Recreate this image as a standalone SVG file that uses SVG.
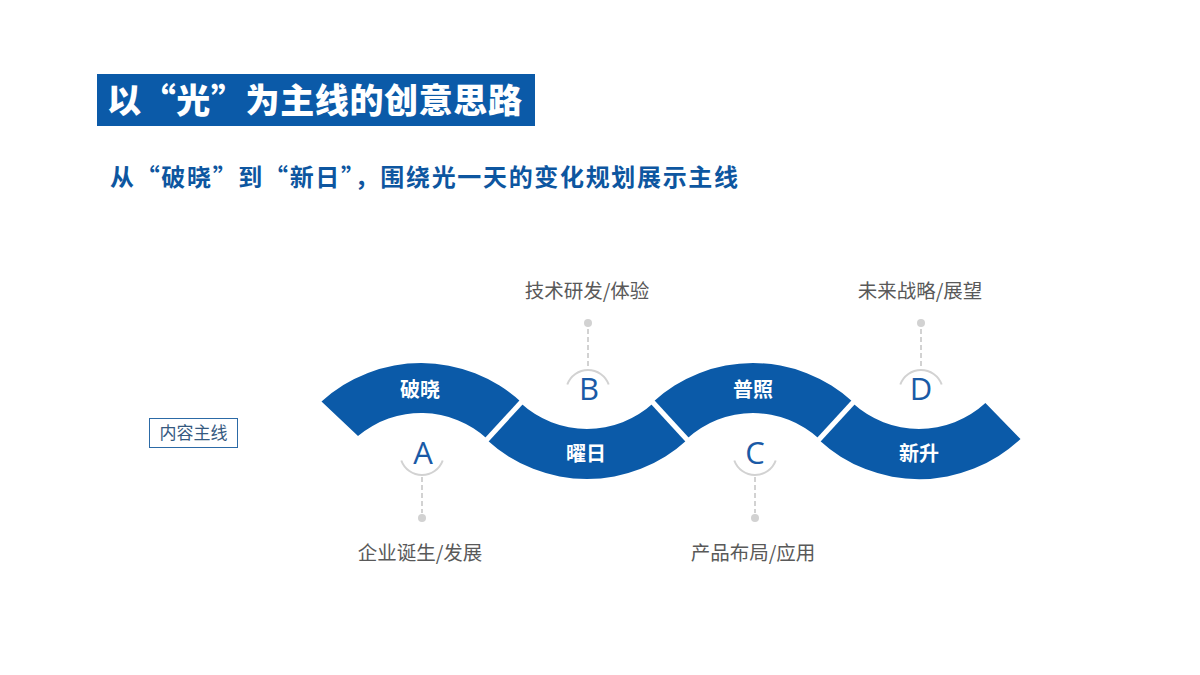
<svg xmlns="http://www.w3.org/2000/svg" width="1200" height="675" viewBox="0 0 1200 675">
  <style>
    .band { fill: #0b5aa8; }
    .gap { stroke: #ffffff; stroke-width: 5; fill: none; }
    .seg { font-family: "Noto Sans CJK SC", "Noto Sans", sans-serif; font-weight: bold; font-size: 20px; fill: #ffffff; text-anchor: middle; }
    .letter { font-family: "Open Sans", "Noto Sans", sans-serif; font-size: 31px; fill: #1a5aa6; text-anchor: middle; }
    .ring { stroke: #d2d2d2; stroke-width: 2; fill: none; }
    .dash { stroke: #d2d2d2; stroke-width: 2; stroke-dasharray: 5 3; fill: none; }
    .dot { fill: #d2d2d2; }
    .lbl { font-family: "Noto Sans CJK SC", "Noto Sans", sans-serif; font-size: 19.5px; fill: #595959; text-anchor: middle; }
  </style>
  <rect width="1200" height="675" fill="#ffffff"/>

  <g id="title">
    <rect x="97" y="74" width="438" height="52" fill="#0b5aa8"/>
    <text x="107" y="113" font-family="Noto Sans CJK SC, sans-serif" font-weight="900" font-size="34" fill="#ffffff" textLength="415" lengthAdjust="spacing">以“光”为主线的创意思路</text>
  </g>

  <g id="subtitle">
    <text x="110" y="186" font-family="Noto Sans CJK SC, sans-serif" font-weight="bold" font-size="24" fill="#0d56a0" textLength="628" lengthAdjust="spacing">从“破晓”到“新日”，围绕光一天的变化规划展示主线</text>
  </g>

  <g id="content-line">
    <rect x="149.5" y="418.5" width="88" height="29" fill="#ffffff" stroke="#2c6aa6" stroke-width="1"/>
    <text x="193.5" y="439" font-family="Noto Sans CJK SC, sans-serif" font-size="17" fill="#35597f" text-anchor="middle">内容主线</text>
  </g>

  <g id="seg-poxiao">
    <path class="band" d="M 321.5 401.5 A 148 148 0 0 1 521.3 402.2 L 487.4 439.0 A 98 98 0 0 0 358 436 Z"/>
    <text class="seg" x="420" y="397">破晓</text>
  </g>
  <g id="seg-yaori">
    <path class="band" d="M 520.6 403 A 98 98 0 0 0 653.4 403 L 687.3 439.8 A 148 148 0 0 1 486.7 439.8 Z"/>
    <text class="seg" x="586" y="461">曜日</text>
  </g>
  <g id="seg-puzhao">
    <path class="band" d="M 652.7 402.2 A 148 148 0 0 1 853.3 402.2 L 819.4 439.0 A 98 98 0 0 0 686.6 439.0 Z"/>
    <text class="seg" x="753" y="397">普照</text>
  </g>
  <g id="seg-xinsheng">
    <path class="band" d="M 852.6 403 A 98 98 0 0 0 985.4 403 L 1020.5 439 A 148 148 0 0 1 818.7 439.8 Z"/>
    <text class="seg" x="919" y="461">新升</text>
  </g>

  <g id="gaps">
    <line class="gap" x1="485.4" y1="441.2" x2="523.3" y2="400"/>
    <line class="gap" x1="688.6" y1="441.2" x2="650.7" y2="400"/>
    <line class="gap" x1="817.4" y1="441.2" x2="855.3" y2="400"/>
  </g>

  <g id="connectors">
    <line class="dash" x1="422" y1="477" x2="422" y2="513"/>
    <line class="dash" x1="588" y1="329" x2="588" y2="369"/>
    <line class="dash" x1="755" y1="477" x2="755" y2="513"/>
    <line class="dash" x1="921" y1="329" x2="921" y2="369"/>
  </g>

  <g id="marker-a">
    <path class="ring" d="M 401.3 460.5 A 22 22 0 0 0 442.7 460.5"/>
    <circle class="dot" cx="422" cy="518" r="4"/>
    <text class="letter" x="423" y="464">A</text>
    <text class="lbl" x="420" y="560">企业诞生/发展</text>
  </g>
  <g id="marker-b">
    <path class="ring" d="M 567.3 384.5 A 22 22 0 0 1 608.7 384.5"/>
    <circle class="dot" cx="588" cy="323" r="4"/>
    <text class="letter" x="589" y="400">B</text>
    <text class="lbl" x="587" y="298">技术研发/体验</text>
  </g>
  <g id="marker-c">
    <path class="ring" d="M 734.3 460.5 A 22 22 0 0 0 775.7 460.5"/>
    <circle class="dot" cx="755" cy="518" r="4"/>
    <text class="letter" x="755" y="464">C</text>
    <text class="lbl" x="753" y="560">产品布局/应用</text>
  </g>
  <g id="marker-d">
    <path class="ring" d="M 900.3 384.5 A 22 22 0 0 1 941.7 384.5"/>
    <circle class="dot" cx="921" cy="323" r="4"/>
    <text class="letter" x="921" y="400">D</text>
    <text class="lbl" x="920" y="298">未来战略/展望</text>
  </g>
</svg>
